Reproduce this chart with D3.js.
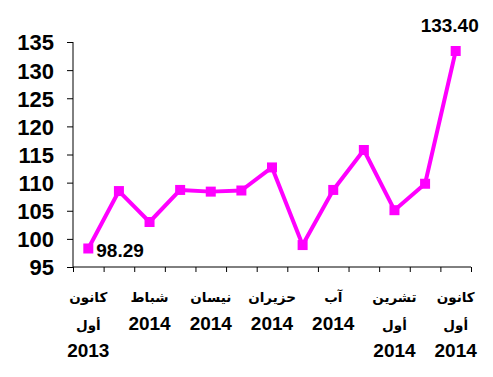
<!DOCTYPE html>
<html>
<head>
<meta charset="utf-8">
<script src="https://cdn.jsdelivr.net/npm/d3@7"></script>
<style>
  body { margin: 0; background: #fff; }
  text { font-family: "Liberation Sans", Arial, "DejaVu Sans", sans-serif; font-weight: bold; fill: #000; }
</style>
</head>
<body>
<div id="container"></div>
<script>
const w = 493
const h = 377

// data
const months = ['كانون أول 2013', 'كانون ثاني 2014', 'شباط 2014', 'آذار 2014', 'نيسان 2014', 'أيار 2014',
  'حزيران 2014', 'تموز 2014', 'آب 2014', 'أيلول 2014', 'تشرين أول 2014', 'تشرين ثاني 2014', 'كانون أول 2014']
const values = [98.29, 108.5, 103.0, 108.7, 108.4, 108.6, 112.7, 98.9, 108.7, 115.8, 105.1, 109.8, 133.40]
// x labels shown (every other month), one array of lines each
const tickLabels = [
  ['كانون', 'أول', '2013'], null, ['شباط', '2014'], null, ['نيسان', '2014'], null,
  ['حزيران', '2014'], null, ['آب', '2014'], null, ['تشرين', 'أول', '2014'], null, ['كانون', 'أول', '2014']
]
const yTicks = [95, 100, 105, 110, 115, 120, 125, 130, 135]

const plotLeft = 73, plotRight = 471, plotTop = 42, plotBottom = 267

const svg = d3.select('#container')
  .append('svg')
  .attr('width', w)
  .attr('height', h)

const xScale = d3.scaleBand().domain(months).range([plotLeft, plotRight])
const edge = d3.scaleLinear().domain([0, months.length]).range([plotLeft, plotRight])
const yScale = d3.scaleLinear().domain([95, 135]).range([plotBottom, plotTop])

// y axis
const yAxis = d3.axisLeft(yScale).tickValues(yTicks).tickSize(6).tickPadding(13)
const gy = svg.append('g')
  .attr('transform', 'translate(' + plotLeft + ',0)')
  .call(yAxis)
gy.selectAll('path, line').attr('stroke', '#000').attr('stroke-width', 1)
gy.select('.domain').attr('d', 'M0,' + plotTop + 'V' + plotBottom)
gy.selectAll('text').style('font-size', '22px').attr('dy', '0.36em')

// x axis: ticks at category edges
const xAxis = d3.axisBottom(edge).tickValues(d3.range(months.length + 1)).tickSize(5).tickFormat('')
const gx = svg.append('g')
  .attr('transform', 'translate(0,' + plotBottom + ')')
  .call(xAxis)
gx.select('.domain').attr('d', 'M' + plotLeft + ',0H' + plotRight)
gx.selectAll('path, line').attr('stroke', '#000').attr('stroke-width', 1)

// x labels
months.forEach((m, i) => {
  const lines = tickLabels[i]
  if (!lines) return
  const t = svg.append('text')
    .attr('text-anchor', 'middle')
  lines.forEach((s, j) => {
    const isNum = /^\d+$/.test(s)
    t.append('tspan')
      .attr('x', xScale(m) + xScale.bandwidth() / 2)
      .attr('y', 302 + j * 27.5)
      .style('font-size', isNum ? '19px' : '13.5px')
      .text(s)
  })
})

// line
const cx = (d, i) => xScale(months[i]) + xScale.bandwidth() / 2
const line = d3.line().x(cx).y(d => yScale(d))
svg.append('path')
  .datum(values)
  .attr('d', line)
  .attr('fill', 'none')
  .attr('stroke', '#FF00FF')
  .attr('stroke-width', 4)
  .attr('stroke-linejoin', 'round')

svg.selectAll('rect.pt')
  .data(values)
  .enter()
  .append('rect')
  .attr('class', 'pt')
  .attr('x', (d, i) => cx(d, i) - 5)
  .attr('y', d => yScale(d) - 5)
  .attr('width', 10)
  .attr('height', 10)
  .attr('fill', '#FF00FF')

// data labels for first and last points
const n = values.length
svg.append('text')
  .attr('x', cx(values[0], 0) + 8)
  .attr('y', yScale(values[0]) + 9)
  .style('font-size', '19px')
  .text(values[0].toFixed(2))
svg.append('text')
  .attr('x', cx(values[n - 1], n - 1) - 6)
  .attr('y', yScale(values[n - 1]) - 19)
  .attr('text-anchor', 'middle')
  .style('font-size', '19px')
  .text(values[n - 1].toFixed(2))
</script>
</body>
</html>
